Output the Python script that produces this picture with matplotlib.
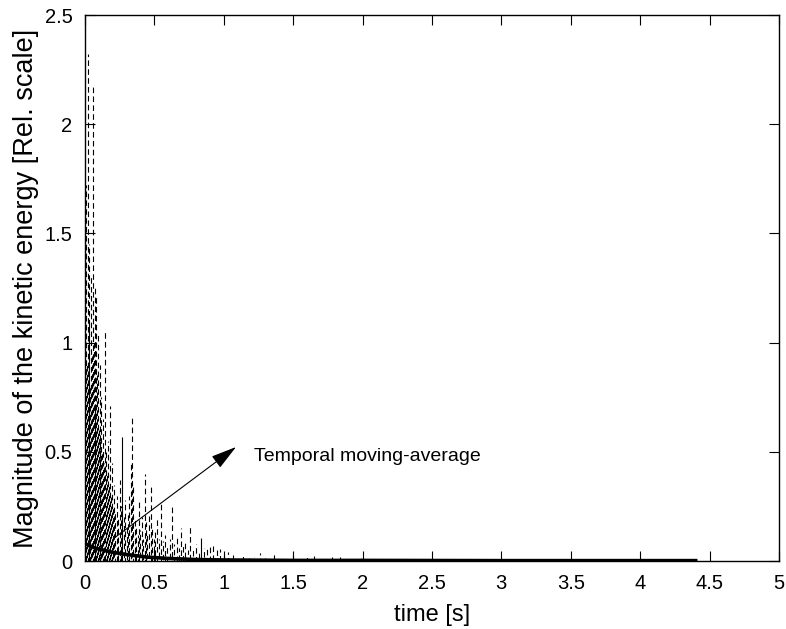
import matplotlib
matplotlib.use("Agg")
import matplotlib.pyplot as plt

plt.rcParams['font.family'] = ['Liberation Sans', 'DejaVu Sans']

# spikes of the kinetic energy signal (time [s], peak value)
spike_t = [0.005, 0.012, 0.020, 0.027, 0.033, 0.040, 0.046, 0.052, 0.058, 0.064,
           0.070, 0.076, 0.082, 0.088, 0.094, 0.100, 0.106, 0.112, 0.118, 0.124,
           0.130, 0.136, 0.147, 0.154, 0.160, 0.166, 0.172, 0.180, 0.188, 0.196,
           0.204, 0.212, 0.220, 0.228, 0.236, 0.250, 0.258, 0.280, 0.290, 0.300,
           0.310, 0.320, 0.330, 0.340, 0.350, 0.360, 0.370, 0.380, 0.390, 0.400,
           0.410, 0.420, 0.430, 0.440, 0.450, 0.460, 0.475, 0.485, 0.495, 0.505,
           0.520, 0.535, 0.550, 0.565, 0.580, 0.595, 0.610, 0.630, 0.645, 0.660,
           0.675, 0.690, 0.705, 0.720, 0.740, 0.760, 0.780, 0.800, 0.820, 0.860,
           0.880, 0.900, 0.925, 0.950, 0.975, 1.00, 1.03, 1.07, 1.10, 1.14,
           1.18, 1.22, 1.26, 1.30, 1.36, 1.42, 1.50, 1.55, 1.60, 1.65,
           1.72, 1.78, 1.84, 1.90, 1.99, 2.08, 2.18, 2.30, 2.45, 2.55]
spike_h = [1.72, 0.90, 2.32, 1.10, 1.45, 0.80, 1.30, 0.95, 2.17, 1.00,
           1.25, 0.70, 1.21, 0.85, 1.05, 0.60, 0.90, 0.55, 0.75, 0.50,
           0.65, 0.45, 1.06, 0.50, 0.40, 0.55, 0.35, 0.71, 0.30, 0.45,
           0.25, 0.35, 0.22, 0.30, 0.20, 0.37, 0.25, 0.20, 0.28, 0.15,
           0.22, 0.30, 0.45, 0.66, 0.35, 0.20, 0.15, 0.12, 0.27, 0.14,
           0.20, 0.10, 0.40, 0.18, 0.12, 0.22, 0.34, 0.15, 0.10, 0.14,
           0.20, 0.10, 0.26, 0.09, 0.12, 0.07, 0.10, 0.25, 0.08, 0.12,
           0.06, 0.15, 0.07, 0.09, 0.05, 0.165, 0.06, 0.08, 0.05, 0.06,
           0.07, 0.07, 0.08, 0.05, 0.055, 0.03, 0.04, 0.028, 0.02, 0.025,
           0.015, 0.02, 0.035, 0.015, 0.035, 0.02, 0.033, 0.015, 0.02, 0.023,
           0.015, 0.02, 0.02, 0.01, 0.03, 0.01, 0.008, 0.01, 0.006, 0.005]

# a few spikes drawn solid in the original
solid_t = [0.270, 0.840]
solid_h = [0.57, 0.105]

# temporal moving-average
ma_t = [0, 0.05, 0.1, 0.2, 0.3, 0.45, 0.6, 0.8, 1.0, 1.5, 2.0, 3.0, 4.0, 4.4]
ma_v = [0.08, 0.065, 0.055, 0.04, 0.03, 0.018, 0.012, 0.007, 0.005, 0.003,
        0.003, 0.002, 0.002, 0.002]

fig = plt.figure(figsize=(7.86, 6.29), dpi=100)
ax = fig.add_axes([0.108, 0.108, 0.883, 0.868])

# stagger the dash phase irregularly so neighbouring spikes don't line up
phases = [0, 5, 2, 7, 3.5, 1, 6, 4.5, 2.5, 0.5, 7.5, 3]
dash_styles = [(phases[i % len(phases)], (5, 3)) for i in range(len(spike_t))]
ax.vlines(spike_t, 0, spike_h, colors='k', linestyles=dash_styles, lw=0.8)
ax.vlines(solid_t, 0, solid_h, colors='k', lw=0.8)
ax.plot(ma_t, ma_v, 'k-', lw=2.6)

ax.annotate('', xy=(1.105, 0.53), xytext=(0.2, 0.1),
            arrowprops=dict(arrowstyle='-|>,head_length=0.8,head_width=0.22',
                            color='k', lw=0.8, mutation_scale=20))
ax.text(1.215, 0.48, 'Temporal moving-average', fontsize=14, va='center', ha='left')

ax.set_xlim(0, 5)
ax.set_ylim(0, 2.5)
ax.set_xticks([0, 0.5, 1, 1.5, 2, 2.5, 3, 3.5, 4, 4.5, 5])
ax.set_xticklabels(['0', '0.5', '1', '1.5', '2', '2.5', '3', '3.5', '4', '4.5', '5'])
ax.set_yticks([0, 0.5, 1, 1.5, 2, 2.5])
ax.set_yticklabels(['0', '0.5', '1', '1.5', '2', '2.5'])
ax.tick_params(direction='in', top=True, right=True, length=7, labelsize=14.5)
ax.tick_params(axis='x', pad=9)
ax.tick_params(axis='y', pad=9)
for s in ax.spines.values():
    s.set_linewidth(1.0)

ax.set_xlabel('time [s]', fontsize=17, labelpad=8)
ax.set_ylabel('Magnitude of the kinetic energy [Rel. scale]', fontsize=19.5, labelpad=4)

fig.savefig('out.png', dpi=100)
